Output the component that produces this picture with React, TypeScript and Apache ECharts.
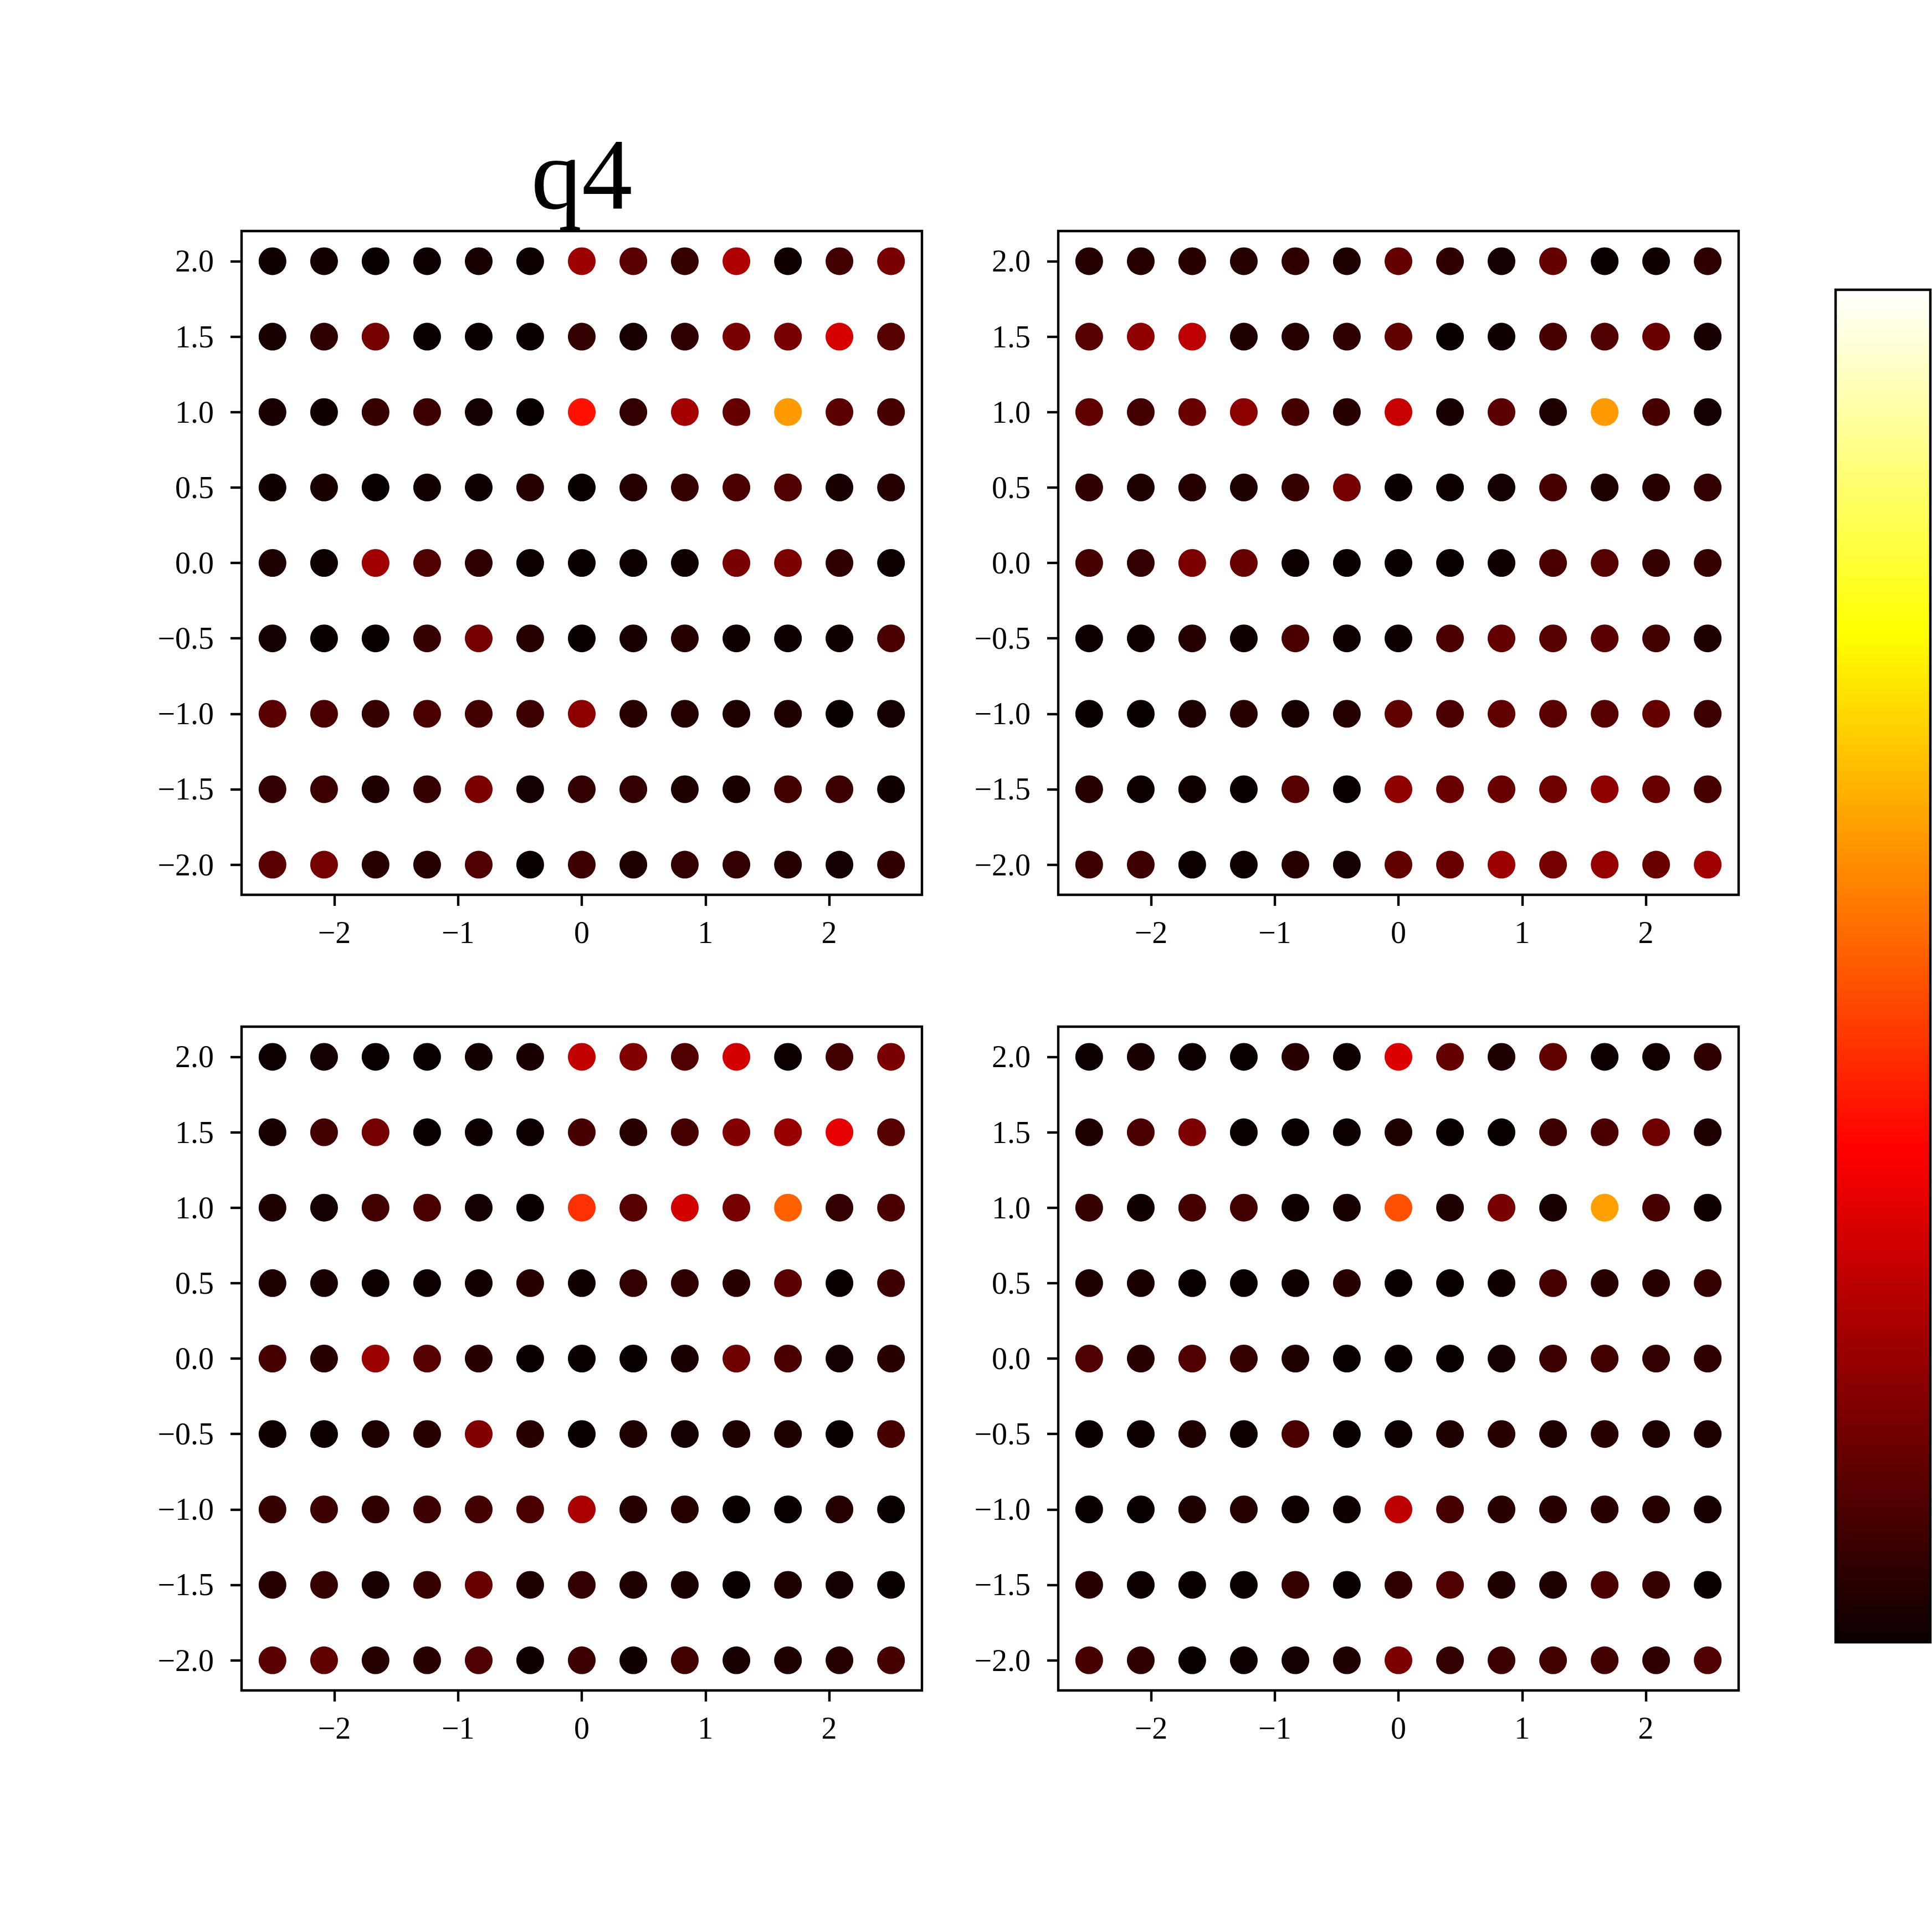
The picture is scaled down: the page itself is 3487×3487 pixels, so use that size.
import React, { useEffect, useRef } from "react";
import * as echarts from "echarts";

// Grid coordinates of the dots (13 columns x 9 rows)
const X_VALUES = [-2.5, -2.083, -1.667, -1.25, -0.833, -0.417, 0, 0.417, 0.833, 1.25, 1.667, 2.083, 2.5];
const Y_VALUES = [2.0, 1.5, 1.0, 0.5, 0.0, -0.5, -1.0, -1.5, -2.0];
const X_TICKS = [-2, -1, 0, 1, 2];
const Y_TICKS = [-2, -1.5, -1, -0.5, 0, 0.5, 1, 1.5, 2];
const TITLE = "q4";
const COLOR_MIN = 0;
const COLOR_MAX = 670;

// Colour values per dot, rows from y = 2.0 (top) to y = -2.0 (bottom)
const PANEL_TL = [
  [5, 8, 0, 2, 15, 2, 145, 80, 45, 165, 5, 55, 110],
  [15, 35, 105, 0, 0, 0, 40, 15, 35, 110, 110, 205, 75],
  [15, 5, 45, 50, 10, 0, 261, 40, 155, 90, 400, 80, 60],
  [5, 15, 0, 8, 5, 25, 0, 25, 45, 65, 70, 15, 25],
  [20, 2, 150, 70, 35, 2, 0, 2, 5, 110, 115, 35, 2],
  [10, 0, 0, 45, 105, 25, 0, 15, 25, 5, 2, 5, 65],
  [80, 65, 45, 65, 55, 50, 130, 30, 25, 20, 20, 0, 10],
  [40, 50, 20, 45, 115, 10, 40, 40, 20, 15, 55, 50, 5],
  [80, 105, 30, 25, 70, 0, 50, 20, 40, 40, 25, 10, 35],
];
const PANEL_TR = [
  [25, 25, 30, 25, 35, 20, 90, 35, 10, 90, 0, 5, 35],
  [75, 135, 180, 20, 25, 35, 85, 0, 5, 60, 70, 95, 15],
  [85, 55, 95, 130, 60, 30, 190, 15, 80, 20, 400, 60, 10],
  [35, 20, 25, 20, 45, 105, 0, 2, 10, 60, 20, 30, 40],
  [60, 40, 115, 95, 2, 0, 0, 0, 5, 65, 75, 45, 45],
  [2, 5, 25, 5, 65, 5, 2, 65, 90, 75, 80, 55, 20],
  [0, 0, 20, 30, 15, 25, 85, 65, 85, 80, 75, 90, 50],
  [25, 2, 5, 0, 75, 0, 135, 95, 95, 100, 135, 95, 60],
  [50, 50, 2, 2, 30, 10, 85, 95, 145, 105, 140, 95, 150],
];
const PANEL_BL = [
  [2, 10, 0, 0, 8, 15, 185, 120, 70, 200, 2, 55, 110],
  [15, 55, 105, 0, 2, 2, 60, 30, 60, 120, 140, 220, 75],
  [20, 10, 55, 65, 10, 0, 293, 75, 200, 105, 341, 40, 65],
  [20, 15, 2, 2, 8, 30, 5, 40, 35, 30, 80, 0, 50],
  [60, 30, 145, 75, 30, 0, 0, 0, 15, 100, 65, 10, 30],
  [5, 2, 20, 30, 120, 30, 0, 20, 10, 20, 20, 0, 60],
  [45, 50, 35, 50, 55, 65, 160, 25, 25, 0, 0, 25, 0],
  [25, 45, 15, 45, 95, 20, 40, 20, 15, 0, 20, 10, 0],
  [80, 85, 25, 30, 70, 5, 50, 5, 55, 15, 20, 25, 60],
];
const PANEL_BR = [
  [2, 15, 2, 0, 30, 5, 210, 90, 20, 85, 2, 8, 35],
  [20, 65, 115, 0, 0, 2, 20, 0, 0, 50, 65, 100, 20],
  [45, 5, 60, 55, 5, 15, 325, 20, 110, 15, 405, 60, 5],
  [20, 15, 0, 0, 5, 30, 0, 0, 5, 60, 30, 30, 45],
  [70, 30, 70, 45, 20, 0, 0, 0, 10, 50, 55, 40, 35],
  [0, 2, 20, 2, 65, 0, 2, 20, 30, 20, 30, 20, 20],
  [0, 0, 20, 25, 5, 5, 180, 60, 30, 30, 30, 25, 15],
  [25, 2, 0, 0, 45, 0, 35, 70, 20, 20, 65, 45, 0],
  [60, 35, 0, 2, 10, 20, 115, 40, 50, 55, 55, 35, 70],
];
const PANELS = [PANEL_TL, PANEL_TR, PANEL_BL, PANEL_BR];

// matplotlib "hot" colormap
function hot(v: number): string {
  const r = v < 0.365079 ? 0.0416 + (v / 0.365079) * 0.9584 : 1;
  const g = v < 0.365079 ? 0 : v < 0.746032 ? (v - 0.365079) / (0.746032 - 0.365079) : 1;
  const b = v < 0.746032 ? 0 : (v - 0.746032) / (1 - 0.746032);
  const h = (c: number) => Math.round(Math.max(0, Math.min(1, c)) * 255).toString(16).padStart(2, "0");
  return "#" + h(r) + h(g) + h(b);
}
const HOT_COLORS: string[] = [];
for (let i = 0; i <= 255; i++) HOT_COLORS.push(hot(i / 255));

const FONT = "Liberation Serif";
const LW = 4.4;
const GRID_POS = [
  { left: 436, top: 417 },
  { left: 1910, top: 417 },
  { left: 436, top: 1853 },
  { left: 1910, top: 1853 },
];
const GRID_W = 1228;
const GRID_H = 1198;

const fmtX = (v: number) => (v < 0 ? "\u2212" : "") + String(Math.abs(Math.round(v)));
const fmtY = (v: number) => (v < -1e-9 ? "\u2212" : "") + Math.abs(v).toFixed(1);

export default function App() {
  const ref = useRef<HTMLDivElement>(null);
  useEffect(() => {
    if (!ref.current) return;
    const chart = echarts.init(ref.current, undefined, { renderer: "svg" });
    const grid = GRID_POS.map((p) => ({
      left: p.left,
      top: p.top,
      width: GRID_W,
      height: GRID_H,
      show: true,
      borderColor: "#000",
      borderWidth: LW,
      backgroundColor: "transparent",
    }));
    const xAxis = GRID_POS.map((_, i) => ({
      type: "value",
      gridIndex: i,
      position: "bottom",
      min: -2.75,
      max: 2.75,
      axisLine: { show: false, onZero: false },
      splitLine: { show: false },
      axisTick: { show: true, customValues: X_TICKS, length: 20, lineStyle: { color: "#000", width: LW } },
      axisLabel: {
        customValues: X_TICKS,
        formatter: fmtX,
        fontFamily: FONT,
        fontSize: 56,
        color: "#000",
        margin: 40,
      },
    }));
    const yAxis = GRID_POS.map((_, i) => ({
      type: "value",
      gridIndex: i,
      position: "left",
      min: -2.2,
      max: 2.2,
      axisLine: { show: false, onZero: false },
      splitLine: { show: false },
      axisTick: { show: true, customValues: Y_TICKS, length: 20, lineStyle: { color: "#000", width: LW } },
      axisLabel: {
        customValues: Y_TICKS,
        formatter: fmtY,
        fontFamily: FONT,
        fontSize: 56,
        color: "#000",
        margin: 50,
      },
    }));
    const series = PANELS.map((panel, i) => {
      const data: number[][] = [];
      Y_VALUES.forEach((y, r) => {
        X_VALUES.forEach((x, c) => {
          data.push([x, y, panel[r][c]]);
        });
      });
      return {
        type: "scatter",
        xAxisIndex: i,
        yAxisIndex: i,
        symbol: "circle",
        symbolSize: 50,
        data,
        itemStyle: { opacity: 1 },
        emphasis: { disabled: true },
      };
    });
    const option = {
      animation: false,
      backgroundColor: "#fff",
      grid,
      xAxis,
      yAxis,
      visualMap: {
        type: "continuous",
        show: false,
        min: COLOR_MIN,
        max: COLOR_MAX,
        dimension: 2,
        seriesIndex: [0, 1, 2, 3],
        inRange: { color: HOT_COLORS },
      },
      series,
      graphic: [
        {
          type: "text",
          x: 1050,
          y: 314,
          style: {
            text: TITLE,
            fontFamily: FONT,
            fontSize: 183,
            fill: "#000",
            align: "center",
            verticalAlign: "middle",
          },
        },
        {
          type: "rect",
          shape: { x: 3313, y: 523, width: 171, height: 2441 },
          style: {
            fill: new echarts.graphic.LinearGradient(0, 0, 0, 1, [
              { offset: 0, color: "#ffffff" },
              { offset: 1 - 0.746032, color: "#ffff00" },
              { offset: 1 - 0.365079, color: "#ff0000" },
              { offset: 1, color: "#0b0000" },
            ]),
            stroke: "#000",
            lineWidth: LW,
          },
        },
      ],
    };
    chart.setOption(option as any);
    return () => chart.dispose();
  }, []);
  return (
    <div
      ref={ref}
      style={{ position: "absolute", left: 0, top: 0, width: 3487, height: 3487 }}
    />
  );
}
